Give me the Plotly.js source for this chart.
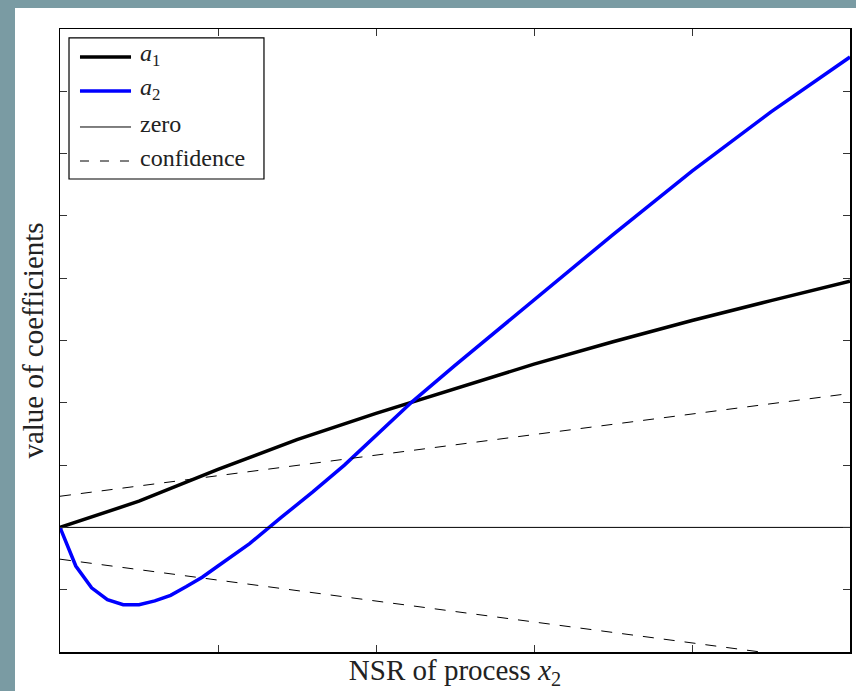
<!DOCTYPE html>
<html>
<head>
<meta charset="utf-8">
<script src="https://cdn.plot.ly/plotly-3.0.1.min.js"></script>
<style>
  html, body { margin: 0; padding: 0; background: #7a9ba3; width: 856px; height: 691px; overflow: hidden; }
  #chart { position: absolute; left: 15px; top: 8px; width: 841px; height: 683px; background: #ffffff; }
</style>
</head>
<body>
<div id="chart"></div>
<script>
// NSR values (x axis)
const xA1 = [0, 0.5, 1.0, 1.5, 2.0, 2.5, 3.0, 3.5, 4.0, 4.5, 5.0];
const a1  = [0, 0.42, 0.93, 1.41, 1.83, 2.23, 2.62, 2.98, 3.32, 3.64, 3.95];

const xA2 = [0, 0.1, 0.2, 0.3, 0.4, 0.5, 0.6, 0.7, 0.8, 0.9, 1.0, 1.2, 1.4, 1.6, 1.8, 2.0, 2.23, 2.5, 3.0, 3.5, 4.0, 4.5, 5.0];
const a2  = [0, -0.62, -0.97, -1.16, -1.24, -1.24, -1.18, -1.09, -0.95, -0.80, -0.62, -0.26, 0.16, 0.57, 1.0, 1.48, 2.02, 2.6, 3.65, 4.70, 5.72, 6.67, 7.55];

const xZero = [0, 5];
const zero  = [0, 0];

const xConf = [0, 2.5, 5];
const confUpper = [0.5, 1.33, 2.15];
const confLower = [-0.51, -1.35, -2.19];

const labelA1 = '<i>a</i><sub>1</sub>';
const labelA2 = '<i>a</i><sub>2</sub>';
const labelZero = 'zero';
const labelConf = 'confidence';
const xTitle = 'NSR of process <i>x</i><sub>2</sub>';
const yTitle = 'value of coefficients';

const serif = 'Liberation Serif, DejaVu Serif, serif';
const DASH = '11px,10px';

const traces = [
  {x: xA1, y: a1, name: labelA1, mode: 'lines', line: {color: '#000000', width: 3.5}},
  {x: xA2, y: a2, name: labelA2, mode: 'lines', line: {color: '#0000ff', width: 3.5}},
  {x: xZero, y: zero, name: labelZero, mode: 'lines', line: {color: '#000000', width: 1}},
  {x: xConf, y: confUpper, name: labelConf, mode: 'lines', line: {color: '#000000', width: 1, dash: DASH}},
  {x: xConf, y: confLower, name: labelConf, mode: 'lines', line: {color: '#000000', width: 1, dash: DASH}}
];

// Legend drawn as a boxed key in paper coordinates
const legendItems = [
  {label: labelA1, color: '#000000', width: 3.5, dash: 'solid'},
  {label: labelA2, color: '#0000ff', width: 3.5, dash: 'solid'},
  {label: labelZero, color: '#000000', width: 1, dash: 'solid'},
  {label: labelConf, color: '#000000', width: 1, dash: '9px,11px'}
];
const keyBox = {x0: 0.0114, x1: 0.2582, y0: 0.7592, y1: 0.9856};
const keyLineX = [0.0253, 0.0899];
const keyTextX = 0.0987;
const keyRowY = [0.9551, 0.9005, 0.8427, 0.7881];

const shapes = [{
  type: 'rect', xref: 'paper', yref: 'paper',
  x0: keyBox.x0, x1: keyBox.x1, y0: keyBox.y0, y1: keyBox.y1,
  fillcolor: '#ffffff', line: {color: '#000000', width: 1.2}, layer: 'above'
}];
const annotations = [];
legendItems.forEach((it, i) => {
  shapes.push({
    type: 'line', xref: 'paper', yref: 'paper',
    x0: keyLineX[0], x1: keyLineX[1], y0: keyRowY[i], y1: keyRowY[i],
    line: {color: it.color, width: it.width, dash: it.dash}, layer: 'above'
  });
  annotations.push({
    xref: 'paper', yref: 'paper', x: keyTextX, y: keyRowY[i],
    xanchor: 'left', yanchor: 'middle', showarrow: false,
    text: it.label, font: {family: serif, size: 24, color: '#222222'},
    yshift: (i < 2 ? 2 : 3)
  });
});

const axisCommon = {
  showgrid: false, zeroline: false, showline: true, linecolor: '#000000', linewidth: 1.5,
  mirror: 'allticks', ticks: 'inside', ticklen: 7, tickcolor: '#333333', tickwidth: 1,
  showticklabels: false, dtick: 1
};

const layout = {
  width: 841, height: 683,
  margin: {l: 45, r: 6, t: 21, b: 39},
  paper_bgcolor: '#ffffff', plot_bgcolor: '#ffffff',
  font: {family: serif, size: 24, color: '#222222'},
  xaxis: Object.assign({}, axisCommon, {range: [0, 5], title: {text: xTitle, standoff: 7, font: {family: serif, size: 29, color: '#222222'}}}),
  yaxis: Object.assign({}, axisCommon, {range: [-2, 8], title: {text: yTitle, standoff: 6, font: {family: serif, size: 29, color: '#222222'}}}),
  showlegend: false,
  shapes: shapes,
  annotations: annotations
};

Plotly.newPlot('chart', traces, layout, {staticPlot: true, displayModeBar: false});
</script>
</body>
</html>
